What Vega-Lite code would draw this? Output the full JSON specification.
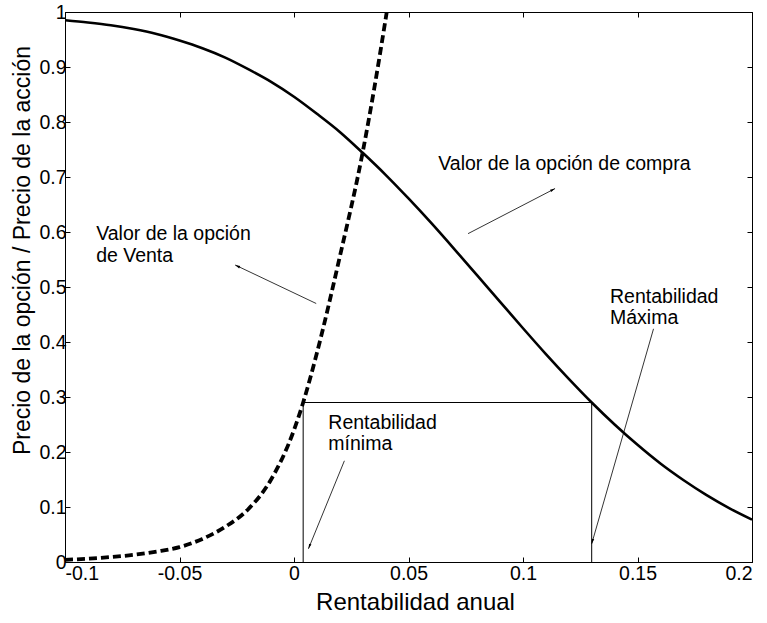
{
  "$schema": "https://vega.github.io/schema/vega-lite/v6.json",
  "width": 687,
  "height": 550,
  "autosize": {"type": "none"},
  "padding": {"left": 65, "top": 12, "right": 15, "bottom": 61},
  "background": "white",
  "config": {
    "locale": {"number": {"decimal": ".", "thousands": ",", "grouping": [3], "currency": ["$", ""], "minus": "-"}},
    "view": {"stroke": "black", "strokeWidth": 1},
    "font": "Liberation Sans",
    "axis": {
      "domainColor": "black",
      "tickColor": "black",
      "tickSize": -5,
      "labelColor": "black",
      "labelFont": "Liberation Sans",
      "labelFontSize": 19.5,
      "titleFont": "Liberation Sans",
      "titleFontSize": 24,
      "titleFontWeight": "normal",
      "titleColor": "black",
      "grid": false
    }
  },
  "datasets": {
    "compra": [
      {"r": -0.1, "v": 0.985}, {"r": -0.09, "v": 0.981}, {"r": -0.08, "v": 0.976},
      {"r": -0.07, "v": 0.969}, {"r": -0.06, "v": 0.96}, {"r": -0.05, "v": 0.948},
      {"r": -0.04, "v": 0.934}, {"r": -0.03, "v": 0.917}, {"r": -0.02, "v": 0.896},
      {"r": -0.01, "v": 0.873}, {"r": 0.0, "v": 0.846}, {"r": 0.01, "v": 0.815},
      {"r": 0.02, "v": 0.782}, {"r": 0.03, "v": 0.744}, {"r": 0.04, "v": 0.704},
      {"r": 0.05, "v": 0.661}, {"r": 0.06, "v": 0.616}, {"r": 0.07, "v": 0.569},
      {"r": 0.08, "v": 0.521}, {"r": 0.09, "v": 0.473}, {"r": 0.1, "v": 0.425},
      {"r": 0.11, "v": 0.378}, {"r": 0.12, "v": 0.333}, {"r": 0.13, "v": 0.29},
      {"r": 0.14, "v": 0.25}, {"r": 0.15, "v": 0.213}, {"r": 0.16, "v": 0.179},
      {"r": 0.17, "v": 0.149}, {"r": 0.18, "v": 0.122}, {"r": 0.19, "v": 0.098},
      {"r": 0.2, "v": 0.077}
    ],
    "venta": [
      {"r": -0.1, "v": 0.004}, {"r": -0.09, "v": 0.006}, {"r": -0.08, "v": 0.009},
      {"r": -0.07, "v": 0.013}, {"r": -0.06, "v": 0.019}, {"r": -0.05, "v": 0.027},
      {"r": -0.04, "v": 0.042}, {"r": -0.03, "v": 0.064}, {"r": -0.02, "v": 0.096},
      {"r": -0.01, "v": 0.15}, {"r": 0.0, "v": 0.24}, {"r": 0.004, "v": 0.29},
      {"r": 0.01, "v": 0.38}, {"r": 0.02, "v": 0.555}, {"r": 0.03, "v": 0.745},
      {"r": 0.035, "v": 0.86}, {"r": 0.0405, "v": 1.0}
    ],
    "limites": [
      {"r": 0.004, "v": 0, "r2": 0.004, "v2": 0.29},
      {"r": 0.13, "v": 0, "r2": 0.13, "v2": 0.29},
      {"r": 0.004, "v": 0.29, "r2": 0.13, "v2": 0.29}
    ],
    "flechas": [
      {"r": 0.076, "v": 0.597, "r2": 0.114, "v2": 0.679, "ang": 61.6},
      {"r": 0.0097, "v": 0.47, "r2": -0.0257, "v2": 0.54, "ang": 296.3},
      {"r": 0.157, "v": 0.424, "r2": 0.13, "v2": 0.033, "ang": 195.4},
      {"r": 0.022, "v": 0.184, "r2": 0.0063, "v2": 0.024, "ang": 201.4}
    ],
    "etiquetas": [
      {"r": 0.063, "v": 0.724, "t": "Valor de la opción de compra"},
      {"r": -0.0864, "v": 0.597, "t": "Valor de la opción"},
      {"r": -0.0864, "v": 0.557, "t": "de Venta"},
      {"r": 0.138, "v": 0.481, "t": "Rentabilidad"},
      {"r": 0.138, "v": 0.444, "t": "Máxima"},
      {"r": 0.015, "v": 0.253, "t": "Rentabilidad"},
      {"r": 0.015, "v": 0.215, "t": "mínima"}
    ]
  },
  "resolve": {"axis": {"x": "independent", "y": "independent"}},
  "layer": [
    {
      "data": {"name": "compra"},
      "mark": {"type": "line", "color": "black", "strokeWidth": 2.6, "interpolate": "monotone", "clip": true},
      "encoding": {
        "x": {
          "field": "r", "type": "quantitative",
          "scale": {"domain": [-0.1, 0.2], "nice": false, "zero": false},
          "axis": {"orient": "bottom", "values": [-0.1, -0.05, 0, 0.05, 0.1, 0.15, 0.2], "format": "~g", "labelPadding": 7, "title": "Rentabilidad anual", "titlePadding": 8, "titleX": 350}
        },
        "y": {
          "field": "v", "type": "quantitative",
          "scale": {"domain": [0, 1], "nice": false, "zero": false},
          "axis": {"orient": "left", "values": [0, 0.1, 0.2, 0.3, 0.4, 0.5, 0.6, 0.7, 0.8, 0.9, 1], "format": "~g", "labelPadding": 4, "title": "Precio de la opción / Precio de la acción", "titleFontSize": 23, "titleX": -43, "titleY": 238, "titleBaseline": "middle", "titleAlign": "center", "titleAngle": -90}
        }
      }
    },
    {
      "data": {"name": "venta"},
      "mark": {"type": "line", "color": "black", "strokeWidth": 3.8, "strokeDash": [8, 4], "interpolate": "monotone", "clip": true},
      "encoding": {
        "x": {"field": "r", "type": "quantitative", "axis": {"orient": "top", "values": [-0.1, -0.05, 0, 0.05, 0.1, 0.15, 0.2], "labels": false, "title": null}},
        "y": {"field": "v", "type": "quantitative", "axis": {"orient": "right", "values": [0, 0.1, 0.2, 0.3, 0.4, 0.5, 0.6, 0.7, 0.8, 0.9, 1], "labels": false, "title": null}}
      }
    },
    {
      "data": {"name": "limites"},
      "mark": {"type": "rule", "color": "black", "strokeWidth": 1},
      "encoding": {
        "x": {"field": "r", "type": "quantitative", "axis": null},
        "y": {"field": "v", "type": "quantitative", "axis": null},
        "x2": {"field": "r2"},
        "y2": {"field": "v2"}
      }
    },
    {
      "data": {"name": "flechas"},
      "mark": {"type": "rule", "color": "black", "strokeWidth": 0.8},
      "encoding": {
        "x": {"field": "r", "type": "quantitative", "axis": null},
        "y": {"field": "v", "type": "quantitative", "axis": null},
        "x2": {"field": "r2"},
        "y2": {"field": "v2"}
      }
    },
    {
      "data": {"name": "flechas"},
      "mark": {"type": "point", "shape": "M0,0L-0.4,1.6L0.4,1.6Z", "filled": true, "color": "black", "opacity": 1, "size": 40},
      "encoding": {
        "x": {"field": "r2", "type": "quantitative", "axis": null},
        "y": {"field": "v2", "type": "quantitative", "axis": null},
        "angle": {"field": "ang", "type": "quantitative", "scale": null}
      }
    },
    {
      "data": {"name": "etiquetas"},
      "mark": {"type": "text", "align": "left", "baseline": "middle", "font": "Liberation Sans", "fontSize": 19.5, "color": "black"},
      "encoding": {
        "x": {"field": "r", "type": "quantitative", "axis": null},
        "y": {"field": "v", "type": "quantitative", "axis": null},
        "text": {"field": "t"}
      }
    }
  ]
}
